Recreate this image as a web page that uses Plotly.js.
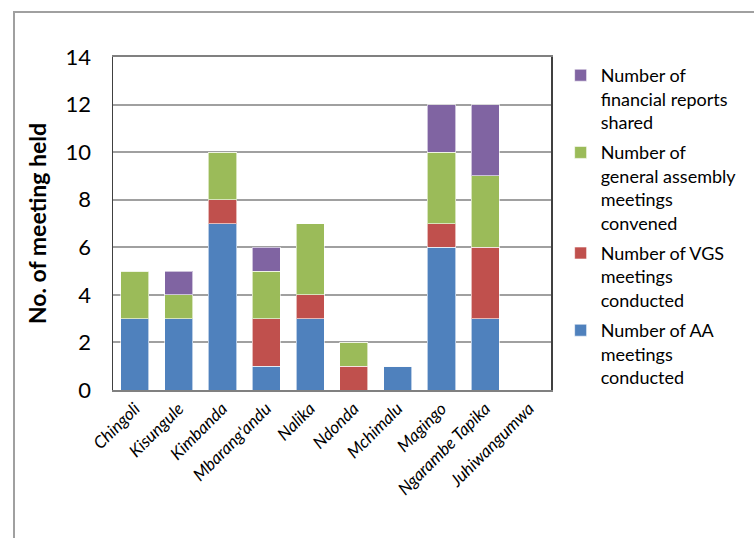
<!DOCTYPE html>
<html>
<head>
<meta charset="utf-8">
<script src="https://cdn.plot.ly/plotly-3.0.1.min.js"></script>
<style>
html,body{margin:0;padding:0;background:#fff;}
#frame{position:absolute;left:13px;top:11px;width:760px;height:540px;border-left:2px solid #a0a0a0;border-top:2px solid #a0a0a0;}
#chart{position:absolute;left:0;top:0;width:754px;height:538px;}
</style>
</head>
<body>
<div id="frame"></div>
<div id="chart"></div>
<script>
const categories = ["Chingoli","Kisungule","Kimbanda","Mbarang'andu","Nalika","Ndonda","Mchimalu","Magingo","Ngarambe Tapika","Juhiwangumwa"];
const aaMeetings = [3,3,7,1,3,0,1,6,3,0];
const vgsMeetings = [0,0,1,2,1,1,0,1,3,0];
const gaMeetings = [2,1,2,2,3,1,0,3,3,0];
const financialReports = [0,1,0,1,0,0,0,2,3,0];
const seriesNames = [
  "Number of AA<br>meetings<br>conducted",
  "Number of VGS<br>meetings<br>conducted",
  "Number of<br>general assembly<br>meetings<br>convened",
  "Number of<br>financial reports<br>shared"
];
const colors = ["#4F81BD","#C0504D","#9BBB59","#8064A2"];
const yTicks = [0,2,4,6,8,10,12,14];

const allValues = [aaMeetings, vgsMeetings, gaMeetings, financialReports];
const traces = allValues.map((vals,i)=>({
  type:'bar', x:categories, y:vals, name:seriesNames[i], legendgroup:'g'+i,
  legendrank: 10 - i,
  marker:{color:colors[i], line:{color:'rgba(255,255,255,0.6)', width:1}}
}));

const layout = {
  width:754, height:538,
  barmode:'stack', bargap:0.36,
  paper_bgcolor:'rgba(0,0,0,0)', plot_bgcolor:'#fff',
  margin:{l:113, r:189, t:57, b:148},
  font:{family:'Lato, "Liberation Sans", sans-serif', color:'#000'},
  xaxis:{
    tickangle:-45, tickfont:{size:17, style:'italic', family:'Lato, sans-serif'},
    showline:true, linecolor:'#808080', linewidth:2, mirror:true,
    ticks:'', showgrid:false
  },
  yaxis:{
    range:[0,14], tickvals:yTicks, ticktext:yTicks.map(String),
    tickfont:{size:22}, showgrid:true, gridcolor:'#a0a0a0', gridwidth:2,
    showline:true, linecolor:'#404040', linewidth:1.5, mirror:true,
    zeroline:false, ticks:'', ticklen:0, ticklabelstandoff:16,
    title:{text:'<b>No. of meeting held</b>', font:{size:23}, standoff:12}
  },
  legend:{
    x:1.022, xanchor:'left', y:1.0, yanchor:'top',
    traceorder:'grouped', font:{size:18}, tracegroupgap:4,
    itemwidth:30, valign:'top', maxheight:520
  },
  showlegend:true
};

Plotly.newPlot('chart', traces, layout, {displayModeBar:false, staticPlot:true});
</script>
</body>
</html>
